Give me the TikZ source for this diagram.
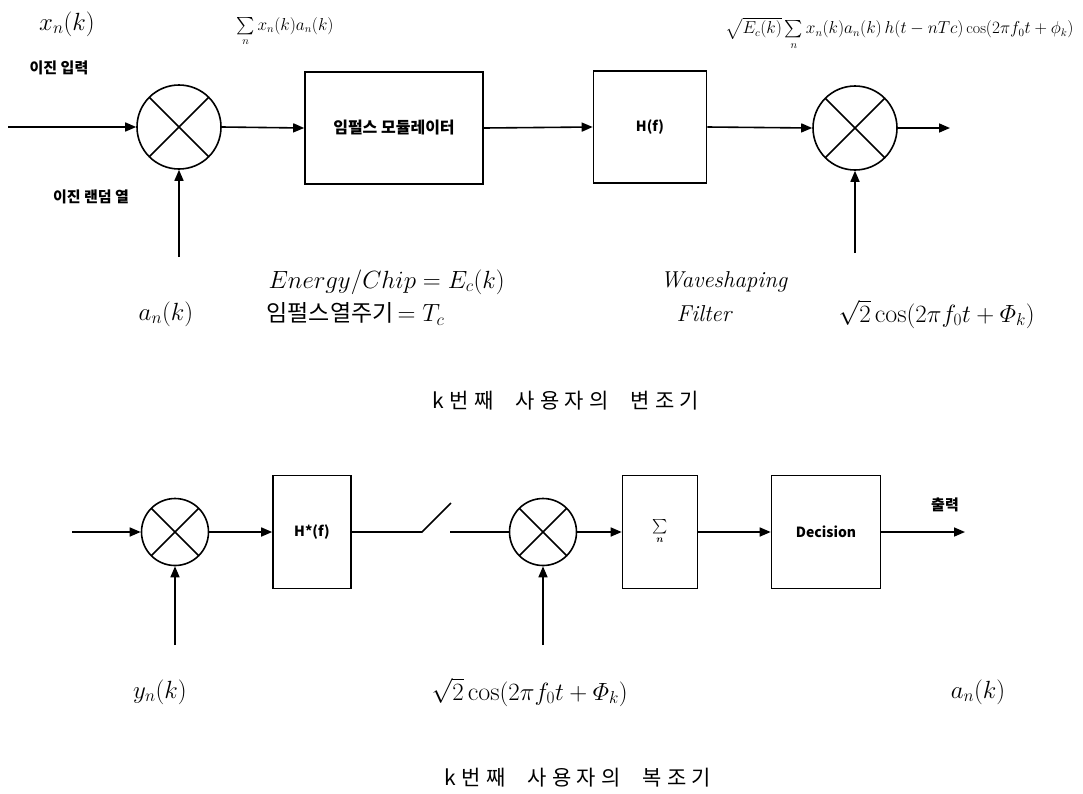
\documentclass[tikz,border=0pt]{standalone}
\usepackage{amsmath}
\usepackage{fontspec}
\newfontfamily\kr{Noto Sans CJK KR}
\newfontfamily\krsp{Noto Sans CJK KR}[LetterSpace=25]
\usetikzlibrary{arrows.meta}
\begin{document}
\begin{tikzpicture}[x=1pt,y=-1pt,
  blk/.style={draw, line width=1.6pt, inner sep=0pt},
  mult/.style={circle, draw, line width=1.6pt, inner sep=0pt, minimum size=#1,
    path picture={\draw[line width=1.6pt]
      (path picture bounding box.north west)--(path picture bounding box.south east)
      (path picture bounding box.north east)--(path picture bounding box.south west);}},
  arr/.style={line width=1.6pt, -{Triangle[length=11pt,width=9pt]}},
  ln/.style={line width=1.6pt},
  krs/.style={font=\kr\bfseries\fontsize{15}{17}\selectfont},
  boxk/.style={font=\kr\bfseries\fontsize{16}{18}\selectfont},
  boxt/.style={font=\kr\bfseries\fontsize{14}{16}\selectfont},
  big/.style={font=\fontsize{26}{30}\selectfont},
  mid/.style={font=\fontsize{23}{27}\selectfont},
  frm/.style={font=\fontsize{16}{18}\selectfont},
  ttl/.style={font=\krsp\fontsize{21}{25}\selectfont}]
\useasboundingbox (0,0) rectangle (1083,793);

% ---------- modulator ----------
\node[mult=84pt] (m1) at (179,127) {};
\node[blk, minimum width=178pt, minimum height=112pt, boxk] (imp) at (394,128) {임펄스 모듈레이터};
\node[blk, minimum width=113pt, minimum height=112pt, boxt] (hf) at (650,127) {H(f)};
\node[mult=84pt] (m2) at (855,128) {};

\coordinate (in1) at (8,127);
\coordinate (an1) at (179,257);
\coordinate (cs1) at (855,253);
\coordinate (out1) at (950,128);

\draw[arr] (in1) -- (m1.west);
\draw[arr] (an1) -- (m1.south);
\draw[arr] (m1.east) -- (imp.west);
\draw[arr] (imp.east) -- (hf.west);
\draw[arr] (hf.east) -- (m2.west);
\draw[arr] (cs1) -- (m2.south);
\draw[arr] (m2.east) -- (out1);

\node[big] (xk) at (67,24) {$x_n(k)$};
\node[krs] (l1) at (59,68) {이진 입력};
\node[krs] (l2) at (91,197) {이진 랜덤 열};
\node[frm] (s1) at (285,32) {$\sum\limits_{n} x_n(k)a_n(k)$};
\node[frm, anchor=east] (s2) at (1077,34) {$\sqrt{E_c(k)}\sum\limits_{n} x_n(k)a_n(k)\,h(t-nTc)\cos(2\pi f_0t+\phi_k)$};

\node[big] (ak1) at (166,314) {$a_n(k)$};
\node[mid, anchor=west] (en) at (265,282) {$Energy/Chip=E_c(k)$};
\node[mid, anchor=west] (ip) at (263,314) {{\kr 임펄스열주기}$\,=T_c$};
\node[mid] (ws) at (724,282) {\itshape Waveshaping};
\node[mid] (fl) at (704,314) {\itshape Filter};
\node[big, anchor=west] (cs1l) at (835,314) {$\sqrt{2}\cos(2\pi f_0t+\varPhi_k)$};

\node[ttl] (t1) at (566,401) {k번째\hspace{12pt} 사용자의\hspace{12pt} 변조기};

% ---------- demodulator ----------
\node[mult=67pt] (mA) at (175,532) {};
\node[blk, minimum width=78pt, minimum height=113pt, boxt] (hs) at (312,532) {H*(f)};
\node[mult=67pt] (mB) at (543,532) {};
\node[blk, minimum width=75pt, minimum height=113pt, boxt] (sm) at (660,532) {$\boldsymbol{\sum\limits_{n}}$};
\node[blk, minimum width=109pt, minimum height=113pt, boxt] (dc) at (826,532) {Decision};

\coordinate (in2) at (72,532);
\coordinate (yn) at (175,645);
\coordinate (sw1) at (422,532);
\coordinate (sw2) at (451,503);
\coordinate (sw3) at (450,532);
\coordinate (cs2) at (543,645);
\coordinate (out2) at (965,532);

\draw[arr] (in2) -- (mA.west);
\draw[arr] (yn) -- (mA.south);
\draw[arr] (mA.east) -- (hs.west);
\draw[ln] (hs.east) -- (sw1) -- (sw2);
\draw[ln] (sw3) -- (mB.west);
\draw[arr] (cs2) -- (mB.south);
\draw[arr] (mB.east) -- (sm.west);
\draw[arr] (sm.east) -- (dc.west);
\draw[arr] (dc.east) -- (out2);

\node[krs] (ol) at (945,505) {출력};
\node[big] (ynl) at (160,692) {$y_n(k)$};
\node[big, anchor=west] (cs2l) at (428,692) {$\sqrt{2}\cos(2\pi f_0t+\varPhi_k)$};
\node[big] (ak2) at (978,692) {$a_n(k)$};

\node[ttl] (t2) at (578,778) {k번째\hspace{12pt} 사용자의\hspace{12pt} 복조기};
\end{tikzpicture}
\end{document}
